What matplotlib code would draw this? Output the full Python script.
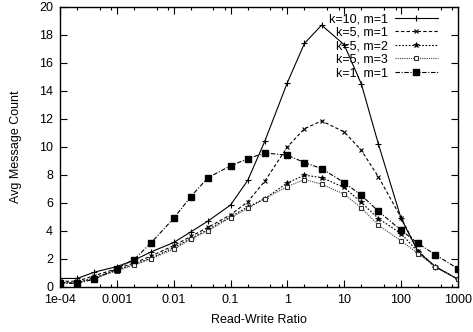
import matplotlib
matplotlib.use("Agg")
import matplotlib.pyplot as plt
import numpy as np
from matplotlib.ticker import FixedLocator, NullFormatter

plt.rcParams['font.family'] = ['Liberation Sans', 'DejaVu Sans']

# read-write ratio (x) - 1, 2, 4 per decade
ratio = [1e-4, 2e-4, 4e-4, 1e-3, 2e-3, 4e-3, 1e-2, 2e-2, 4e-2, 0.1, 0.2, 0.4,
         1, 2, 4, 10, 20, 40, 100, 200, 400, 1000]

k10_m1 = [0.6, 0.6, 1.05, 1.45, 1.9, 2.5, 3.17, 3.93, 4.7, 5.85, 7.6, 10.4,
          14.6, 17.4, 18.7, 17.3, 14.5, 10.2, 4.9, 2.5, 1.45, 0.55]
k5_m1 = [0.4, 0.4, 0.8, 1.3, 1.7, 2.2, 2.95, 3.6, 4.25, 5.15, 6.07, 7.55,
         10.0, 11.3, 11.86, 11.07, 9.76, 7.86, 4.95, 2.55, 1.43, 0.55]
k5_m2 = [0.3, 0.3, 0.65, 1.2, 1.6, 2.05, 2.8, 3.45, 4.1, 5.0, 5.7, 6.3,
         7.43, 7.98, 7.81, 7.1, 6.03, 4.88, 3.81, 2.5, 1.43, 0.55]
k5_m3 = [0.3, 0.3, 0.6, 1.15, 1.55, 2.0, 2.7, 3.4, 4.0, 4.95, 5.6, 6.3,
         7.17, 7.67, 7.34, 6.62, 5.64, 4.4, 3.29, 2.38, 1.43, 0.55]
k1_m1 = [0.25, 0.25, 0.55, 1.3, 1.95, 3.15, 4.9, 6.45, 7.8, 8.65, 9.15, 9.57,
         9.41, 8.88, 8.45, 7.45, 6.55, 5.4, 4.05, 3.1, 2.3, 1.3]

xticks = [1e-4, 1e-3, 1e-2, 0.1, 1, 10, 100, 1000]
xticklabels = ['1e-04', '0.001', '0.01', '0.1', '1', '10', '100', '1000']

fig = plt.figure(figsize=(4.73, 3.32), dpi=100)
ax = fig.add_axes([0.127, 0.136, 0.841, 0.843])

lw = 0.8
ax.plot(ratio, k10_m1, color='black', lw=lw, ls='-', marker='+', ms=4,
        mew=0.8, label='k=10, m=1')
ax.plot(ratio, k5_m1, color='black', lw=lw, ls=(0, (3, 2)), marker='x', ms=3.5,
        mew=0.8, label='k=5, m=1')
ax.plot(ratio, k5_m2, color='black', lw=lw, ls=(0, (1.5, 1.5)), marker='*', ms=4,
        mew=0.5, label='k=5, m=2')
ax.plot(ratio, k5_m3, color='#444444', lw=lw, ls=(0, (1, 1)), marker='s', ms=3.5,
        mfc='white', mec='#333333', mew=0.8, label='k=5, m=3')
ax.plot(ratio, k1_m1, color='black', lw=lw, ls=(0, (4, 1.5, 1, 1.5)), marker='s',
        ms=5, label='k=1, m=1')

ax.set_xscale('log')
ax.set_xlim(1e-4, 1000)
ax.set_ylim(0, 20)
ax.xaxis.set_major_locator(FixedLocator(xticks))
ax.set_xticklabels(xticklabels)
minor = [m * 10.0 ** e for e in range(-4, 3) for m in (2, 5, 8)]
ax.xaxis.set_minor_locator(FixedLocator(minor))
ax.xaxis.set_minor_formatter(NullFormatter())
ax.set_yticks(np.arange(0, 21, 2))

ax.tick_params(which='both', direction='in', top=True, right=True, labelsize=9,
               width=0.8)
ax.tick_params(which='major', length=5, pad=5)
ax.tick_params(which='minor', length=2.5)
for s in ax.spines.values():
    s.set_linewidth(1.0)

ax.set_xlabel('Read-Write Ratio', fontsize=9, labelpad=6)
ax.set_ylabel('Avg Message Count', fontsize=9, labelpad=12)

ax.legend(loc='upper right', bbox_to_anchor=(0.962, 0.995), frameon=False,
          markerfirst=False, fontsize=9, handlelength=3.4, labelspacing=0.12,
          borderaxespad=0, handletextpad=0.6)

fig.savefig('out.png', dpi=100)
